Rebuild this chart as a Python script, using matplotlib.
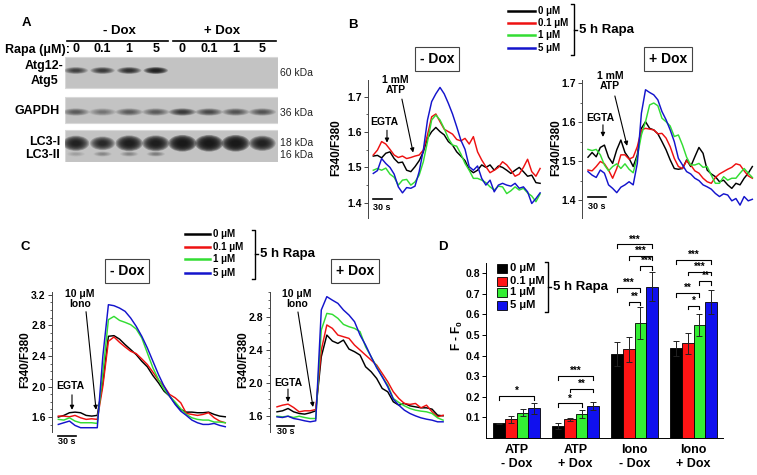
import numpy as np
import matplotlib
matplotlib.use('Agg')
from matplotlib import pyplot as plt
from matplotlib.lines import Line2D
from matplotlib.patches import Ellipse, Rectangle
from matplotlib.ticker import MultipleLocator, FormatStrFormatter

plt.rcParams['font.family'] = ['Liberation Sans', 'DejaVu Sans']
plt.rcParams['font.weight'] = 'bold'
plt.rcParams['mathtext.fontset'] = 'custom'
plt.rcParams['mathtext.rm'] = 'Liberation Sans:bold'
plt.rcParams['mathtext.bf'] = 'Liberation Sans:bold'
plt.rcParams['mathtext.default'] = 'bf'

# ---- data ----
conc_labels = ['0 μM', '0.1 μM', '1 μM', '5 μM']
rapa_lanes = ['0', '0.1', '1', '5', '0', '0.1', '1', '5']

# western blot band strength per lane (0 = none, 1 = saturated)
atg12_atg5 = [0.75, 0.8, 0.85, 0.95, 0, 0, 0, 0]
gapdh = [0.6, 0.45, 0.6, 0.6, 0.8, 0.7, 0.65, 0.65]
lc3_i = [0.95, 0.9, 0.97, 0.97, 1.0, 1.0, 1.0, 0.95]
lc3_ii = [0.2, 0.35, 0.35, 0.4, 0, 0, 0, 0]

# B: 1 mM ATP traces (F340/F380), 0 / 0.1 / 1 / 5 uM rapa
atp_time_minus = np.linspace(0, 268, 41)
atp_minus_dox = [
    [1.532, 1.534, 1.527, 1.540, 1.544, 1.525, 1.513, 1.515, 1.492, 1.488,
     1.502, 1.519, 1.544, 1.582, 1.601, 1.613, 1.601, 1.592, 1.573, 1.563,
     1.544, 1.532, 1.519, 1.494, 1.485, 1.492, 1.507, 1.500, 1.507, 1.492,
     1.504, 1.500, 1.492, 1.483, 1.492, 1.500, 1.488, 1.475, 1.478, 1.457, 1.455],
    [1.535, 1.549, 1.573, 1.566, 1.551, 1.535, 1.528, 1.532, 1.525, 1.528,
     1.532, 1.535, 1.549, 1.592, 1.643, 1.651, 1.629, 1.608, 1.601, 1.594,
     1.579, 1.575, 1.582, 1.566, 1.587, 1.544, 1.521, 1.502, 1.485, 1.492,
     1.500, 1.516, 1.507, 1.492, 1.475, 1.481, 1.500, 1.523, 1.488, 1.475, 1.497],
    [1.492, 1.497, 1.492, 1.498, 1.481, 1.472, 1.450, 1.464, 1.466, 1.450,
     1.459, 1.478, 1.516, 1.573, 1.634, 1.648, 1.634, 1.610, 1.582, 1.563,
     1.560, 1.538, 1.511, 1.492, 1.469, 1.469, 1.464, 1.457, 1.445, 1.436,
     1.447, 1.445, 1.426, 1.434, 1.445, 1.436, 1.441, 1.428, 1.419, 1.403, 1.425],
    [1.483, 1.491, 1.525, 1.511, 1.500, 1.481, 1.445, 1.428, 1.443, 1.441,
     1.447, 1.488, 1.549, 1.634, 1.686, 1.708, 1.726, 1.708, 1.681, 1.651,
     1.615, 1.577, 1.551, 1.502, 1.492, 1.504, 1.469, 1.450, 1.464, 1.431,
     1.450, 1.455, 1.450, 1.447, 1.455, 1.441, 1.445, 1.431, 1.398, 1.412, 1.428],
]
atp_time_plus = np.linspace(0, 269, 41)
atp_plus_dox = [
    [1.510, 1.522, 1.511, 1.535, 1.541, 1.510, 1.494, 1.529, 1.554, 1.522,
     1.507, 1.486, 1.516, 1.584, 1.601, 1.584, 1.580, 1.570, 1.550, 1.529,
     1.503, 1.481, 1.479, 1.481, 1.503, 1.486, 1.511, 1.535, 1.520, 1.477,
     1.467, 1.460, 1.447, 1.451, 1.439, 1.430, 1.443, 1.439, 1.456, 1.469, 1.486],
    [1.477, 1.475, 1.486, 1.499, 1.493, 1.477, 1.456, 1.481, 1.516, 1.516,
     1.505, 1.510, 1.537, 1.580, 1.584, 1.582, 1.580, 1.570, 1.571, 1.559,
     1.537, 1.507, 1.486, 1.481, 1.501, 1.490, 1.475, 1.469, 1.456, 1.447,
     1.443, 1.458, 1.467, 1.473, 1.479, 1.484, 1.493, 1.490, 1.475, 1.462, 1.456],
    [1.530, 1.527, 1.530, 1.516, 1.490, 1.475, 1.486, 1.493, 1.481, 1.493,
     1.479, 1.470, 1.511, 1.567, 1.601, 1.644, 1.649, 1.642, 1.610, 1.601,
     1.590, 1.563, 1.567, 1.541, 1.510, 1.490, 1.490, 1.494, 1.484, 1.486,
     1.464, 1.443, 1.443, 1.460, 1.451, 1.456, 1.456, 1.469, 1.481, 1.469, 1.458],
    [1.473, 1.464, 1.458, 1.477, 1.469, 1.439, 1.430, 1.419, 1.433, 1.439,
     1.447, 1.439, 1.494, 1.623, 1.683, 1.676, 1.670, 1.657, 1.627, 1.606,
     1.580, 1.550, 1.507, 1.490, 1.473, 1.467, 1.456, 1.450, 1.439, 1.434,
     1.428, 1.417, 1.409, 1.416, 1.413, 1.398, 1.404, 1.387, 1.409, 1.398, 1.402],
]

# C: 10 uM ionomycin traces
iono_time_minus = np.linspace(0, 283, 31)
iono_minus_dox = [
    [1.600, 1.622, 1.657, 1.665, 1.657, 1.622, 1.613, 1.622, 2.048, 2.657,
     2.665, 2.620, 2.548, 2.483, 2.417, 2.330, 2.257, 2.143, 2.048, 1.939,
     1.874, 1.778, 1.700, 1.665, 1.665, 1.657, 1.657, 1.665, 1.635, 1.613, 1.604],
    [1.613, 1.613, 1.604, 1.622, 1.591, 1.570, 1.578, 1.570, 2.004, 2.591,
     2.648, 2.578, 2.517, 2.461, 2.430, 2.361, 2.287, 2.187, 2.083, 2.004,
     1.896, 1.852, 1.787, 1.648, 1.635, 1.622, 1.635, 1.657, 1.591, 1.548, 1.526],
    [1.570, 1.561, 1.591, 1.548, 1.526, 1.526, 1.526, 1.517, 2.178, 2.874,
     2.917, 2.865, 2.839, 2.809, 2.752, 2.635, 2.439, 2.243, 2.091, 1.961,
     1.874, 1.796, 1.709, 1.635, 1.591, 1.570, 1.561, 1.561, 1.535, 1.535, 1.526],
    [1.504, 1.526, 1.548, 1.491, 1.461, 1.461, 1.461, 1.461, 2.396, 3.070,
     3.057, 3.026, 2.983, 2.896, 2.787, 2.657, 2.504, 2.330, 2.157, 2.004,
     1.874, 1.765, 1.678, 1.622, 1.561, 1.526, 1.504, 1.504, 1.517, 1.491, 1.474],
]
iono_time_plus = np.linspace(0, 293, 31)
iono_plus_dox = [
    [1.651, 1.663, 1.691, 1.651, 1.631, 1.623, 1.639, 1.663, 2.316, 2.578,
     2.506, 2.477, 2.518, 2.409, 2.377, 2.336, 2.195, 2.135, 2.054, 1.933,
     1.893, 1.772, 1.731, 1.752, 1.723, 1.711, 1.699, 1.699, 1.683, 1.610, 1.602],
    [1.711, 1.731, 1.744, 1.703, 1.651, 1.663, 1.663, 1.679, 2.397, 2.700,
     2.659, 2.578, 2.558, 2.538, 2.457, 2.397, 2.336, 2.276, 2.215, 2.115,
     2.014, 1.893, 1.812, 1.752, 1.740, 1.752, 1.699, 1.731, 1.651, 1.590, 1.610],
    [1.598, 1.590, 1.598, 1.582, 1.598, 1.582, 1.570, 1.570, 2.639, 2.840,
     2.828, 2.780, 2.707, 2.679, 2.659, 2.619, 2.437, 2.316, 2.195, 2.074,
     1.973, 1.812, 1.764, 1.723, 1.691, 1.671, 1.659, 1.651, 1.631, 1.578, 1.550],
    [1.590, 1.582, 1.598, 1.570, 1.558, 1.542, 1.530, 1.542, 2.881, 3.042,
     3.000, 2.961, 2.881, 2.820, 2.740, 2.578, 2.457, 2.316, 2.183, 2.074,
     1.953, 1.804, 1.731, 1.671, 1.631, 1.602, 1.578, 1.562, 1.550, 1.530, 1.530],
]

# D: peak F - F0, mean and error per rapa concentration
groups = ['ATP\n- Dox', 'ATP\n+ Dox', 'Iono\n- Dox', 'Iono\n+ Dox']
peak_0uM = [0.071, 0.059, 0.408, 0.436]
err_0uM = [0.003, 0.015, 0.060, 0.037]
peak_01uM = [0.091, 0.091, 0.431, 0.460]
err_01uM = [0.016, 0.006, 0.060, 0.052]
peak_1uM = [0.123, 0.117, 0.560, 0.549]
err_1uM = [0.017, 0.020, 0.077, 0.055]
peak_5uM = [0.145, 0.156, 0.735, 0.660]
err_5uM = [0.027, 0.019, 0.070, 0.057]
# (group, bar a, bar b, bracket height, label)
sig_brackets = [
    (0, 0, 3, 0.204, '*'),
    (1, 0, 2, 0.168, '*'), (1, 1, 3, 0.240, '**'), (1, 0, 3, 0.300, '***'),
    (2, 1, 2, 0.663, '**'), (2, 0, 2, 0.728, '***'), (2, 2, 3, 0.836, '***'),
    (2, 1, 3, 0.884, '***'), (2, 0, 3, 0.940, '***'),
    (3, 1, 2, 0.643, '*'), (3, 0, 2, 0.704, '**'), (3, 2, 3, 0.763, '**'),
    (3, 1, 3, 0.808, '***'), (3, 0, 3, 0.863, '***'),
]

line_colors = ['#000000', '#ee1111', '#33dd33', '#1414cc']
bar_colors = ['#000000', '#ff1414', '#33ee33', '#1010ee']

W, H = 757, 475
fig = plt.figure(figsize=(W / 100, H / 100), dpi=100)


def frac_rect(x0, y0, x1, y1):
    return [x0 / W, 1 - y1 / H, (x1 - x0) / W, (y1 - y0) / H]


def fig_text(x, y, s, **kw):
    kw.setdefault('ha', 'center')
    kw.setdefault('va', 'center')
    fig.text(x / W, 1 - y / H, s, **kw)


def fig_line(xs, ys, **kw):
    fig.add_artist(Line2D([x / W for x in xs], [1 - y / H for y in ys],
                          transform=fig.transFigure, **kw))


def rapa_bracket(x, y0, y1, x_text):
    fig_line([x - 3, x, x, x - 3], [y0, y0, y1, y1], color='k', lw=1.0)
    ym = (y0 + y1) / 2
    fig_line([x, x + 3], [ym, ym], color='k', lw=1.0)
    fig_text(x_text, ym, '5 h Rapa', ha='left', fontsize=9.5)


def line_key(x0, x1, x_lab, rows):
    for lab, col, y in zip(conc_labels, line_colors, rows):
        fig_line([x0, x1], [y, y], color=col, lw=1.8)
        fig_text(x_lab, y, lab, ha='left', fontsize=7)


def dox_box(x, y, s):
    fig_text(x, y, s, fontsize=10,
             bbox=dict(boxstyle='square,pad=0.35', fc='white', ec='#444444', lw=0.8))


def trace_panel(box, t, series, xlim, ylim, step):
    ax = fig.add_axes(frac_rect(*box))
    for vals, col in zip(series, line_colors):
        ax.plot(t, vals, color=col, lw=1.05)
    ax.set_xlim(xlim)
    ax.set_ylim(ylim)
    for s in ['top', 'right', 'bottom']:
        ax.spines[s].set_visible(False)
    ax.spines['left'].set_linewidth(0.7)
    ax.spines['left'].set_color('#444444')
    ax.set_xticks([])
    ax.yaxis.set_major_locator(MultipleLocator(step))
    ax.yaxis.set_minor_locator(MultipleLocator(step / 4 if step > 0.2 else step / 2))
    ax.yaxis.set_major_formatter(FormatStrFormatter('%.1f'))
    ax.tick_params(axis='y', which='major', labelsize=7.5, length=3, width=0.7,
                   pad=1.5, color='#444444')
    ax.tick_params(axis='y', which='minor', length=1.5, width=0.6, color='#444444')
    ax.patch.set_alpha(0)
    return ax


def arrow(ax, tail, head):
    ax.annotate('', xy=head, xytext=tail, annotation_clip=False,
                arrowprops=dict(arrowstyle='-|>', color='k', lw=0.8,
                                mutation_scale=6, shrinkA=0, shrinkB=0))


def scale_bar(ax, y_bar, y_txt):
    ax.plot([0, 30], [y_bar, y_bar], color='k', lw=1.2, clip_on=False)
    ax.text(0, y_txt, '30 s', fontsize=6.5, ha='left', va='center', clip_on=False)


# ---- A: western blot ----
fig_text(26, 23, 'A', fontsize=9.5)
fig_text(119, 31, '- Dox', fontsize=9.5)
fig_text(222, 31, '+ Dox', fontsize=9.5)
fig_line([67, 168], [40.5, 40.5], color='k', lw=1.2)
fig_line([173, 276], [40.5, 40.5], color='k', lw=1.2)
fig_text(5, 49.5, 'Rapa (μM):', ha='left', fontsize=9)
fig_text(44, 66.5, 'Atg12-', fontsize=9)
fig_text(45, 81, 'Atg5', fontsize=9)
fig_text(60, 111, 'GAPDH', ha='right', fontsize=9)
fig_text(60, 142, 'LC3-I', ha='right', fontsize=9)
fig_text(60, 155, 'LC3-II', ha='right', fontsize=9)
for y, s in [(72.5, '60 kDa'), (112.5, '36 kDa'), (142.5, '18 kDa'), (154.5, '16 kDa')]:
    fig_text(280, y, s, ha='left', fontsize=7.5, fontweight='normal', color='#222222')

ax_blot = fig.add_axes(frac_rect(65, 56, 278, 162))
ax_blot.set_xlim(-0.41, 7.59)
ax_blot.set_ylim(162, 56)
ax_blot.axis('off')
for y0, y1 in [(56.7, 88.3), (96.7, 123.3), (130, 161.7)]:
    ax_blot.add_patch(Rectangle((-0.41, y0), 8.0, y1 - y0, fc='#c3c3c3', ec='#d8d8d8', lw=0.8))


def band(lane, y, w, h, strength):
    # stacked faint ellipses give a soft, film-like edge
    if strength <= 0:
        return
    n = 10
    a = 1 - (1 - 0.97 * strength) ** (1.0 / n)
    for scale in np.linspace(1.15, 0.3, n):
        ax_blot.add_patch(Ellipse((lane, y), w * scale, h * scale, fc='#151515',
                                  alpha=a, lw=0))


for i, lab in enumerate(rapa_lanes):
    ax_blot.text(i, 49.5, lab, ha='center', va='center', fontsize=9, clip_on=False)
    band(i, 70.5, 0.8, 6, atg12_atg5[i])
    band(i, 112, 0.9, 6.5, gapdh[i])
    band(i, 143.3, 0.82 + 0.1 * (lc3_i[i] - 0.9) * 10, 12 + 2.5 * (lc3_i[i] - 0.9) * 10,
         lc3_i[i])
    band(i, 154, 0.6, 4.5, lc3_ii[i])

# ---- B: ATP traces ----
fig_text(353, 25, 'B', fontsize=9.5)
line_key(508, 535, 538, [11, 23, 35, 48])
rapa_bracket(574, 4, 55, 579)
dox_box(437, 59, '- Dox')
dox_box(668, 59, '+ Dox')

ax = trace_panel((368, 80, 548, 218), atp_time_minus, atp_minus_dox,
                 (-8.5, 280.7), (1.357, 1.747), 0.1)
ax.text(17, 1.627, 'EGTA', ha='center', va='center', fontsize=7.5)
arrow(ax, (22, 1.605), (22, 1.570))
ax.text(36, 1.733, '1 mM\nATP', ha='center', va='center', fontsize=7.5, linespacing=1.0)
arrow(ax, (46, 1.693), (64, 1.542))
scale_bar(ax, 1.41, 1.388)
fig_text(336, 148, 'F340/F380', rotation=90, fontsize=8.5)

ax = trace_panel((582, 80, 757, 218), atp_time_plus, atp_plus_dox,
                 (-9.8, 276.6), (1.354, 1.708), 0.1)
ax.text(19.6, 1.610, 'EGTA', ha='center', va='center', fontsize=7.5)
arrow(ax, (24.5, 1.593), (24.5, 1.562))
ax.text(36, 1.705, '1 mM\nATP', ha='center', va='center', fontsize=7.5, linespacing=1.0)
arrow(ax, (44, 1.667), (64, 1.539))
scale_bar(ax, 1.408, 1.383)
fig_text(556, 148, 'F340/F380', rotation=90, fontsize=8.5)

# ---- C: ionomycin traces ----
fig_text(25.5, 247, 'C', fontsize=9.5)
line_key(185, 210, 213, [234, 246.7, 259.3, 272.7])
rapa_bracket(255, 230, 279, 260)
dox_box(127, 271, '- Dox')
dox_box(355, 271, '+ Dox')

ax = trace_panel((52, 291.7, 232, 432), iono_time_minus, iono_minus_dox,
                 (-10.7, 294.4), (1.405, 3.24), 0.4)
ax.text(19.8, 2.01, 'EGTA', ha='center', va='center', fontsize=7.5)
arrow(ax, (23.2, 1.891), (23.2, 1.695))
ax.text(36.8, 3.15, '10 μM\nIono', ha='center', va='center', fontsize=7.5, linespacing=1.0)
arrow(ax, (47, 2.978), (64, 1.695))
scale_bar(ax, 1.354, 1.276)
fig_text(25, 360, 'F340/F380', rotation=90, fontsize=8.5)

ax = trace_panel((269.5, 291.7, 448, 432), iono_time_plus, iono_plus_dox,
                 (-13.2, 301.6), (1.407, 3.102), 0.4)
ax.text(19.4, 2.0, 'EGTA', ha='center', va='center', fontsize=7.5)
arrow(ax, (19.4, 1.926), (19.4, 1.769))
ax.text(35.3, 3.014, '10 μM\nIono', ha='center', va='center', fontsize=7.5, linespacing=1.0)
arrow(ax, (37, 2.857), (63.5, 1.709))
scale_bar(ax, 1.479, 1.407)
fig_text(243, 360, 'F340/F380', rotation=90, fontsize=8.5)

# ---- D: bar chart ----
fig_text(442.5, 247, 'D', fontsize=9.5)
ax_d = fig.add_axes(frac_rect(486, 263, 723, 438))
x = np.arange(len(groups))
width = 0.2
peaks = [peak_0uM, peak_01uM, peak_1uM, peak_5uM]
errs = [err_0uM, err_01uM, err_1uM, err_5uM]
for k, (m, e, col) in enumerate(zip(peaks, errs, bar_colors)):
    ax_d.bar(x + (k - 1.5) * width, m, width, yerr=e, color=col, edgecolor='k', lw=0.6,
             error_kw=dict(elinewidth=0.7, capsize=2, capthick=0.7, ecolor='#222222'))
ax_d.set_xlim(-0.52, 3.5)
ax_d.set_ylim(0, 0.85)
for s in ['top', 'right']:
    ax_d.spines[s].set_visible(False)
for s in ['left', 'bottom']:
    ax_d.spines[s].set_linewidth(0.7)
ax_d.set_yticks(np.arange(0.1, 0.81, 0.1))
ax_d.yaxis.set_major_formatter(FormatStrFormatter('%.1f'))
ax_d.tick_params(axis='y', labelsize=7.5, length=3, width=0.7, pad=1.5)
ax_d.set_xticks(x)
ax_d.set_xticklabels(groups, fontsize=9, linespacing=1.3)
ax_d.tick_params(axis='x', length=0, pad=4)
ax_d.patch.set_alpha(0)
for g, i, j, lev, stars in sig_brackets:
    x0 = g + (i - 1.5) * width
    x1 = g + (j - 1.5) * width
    ax_d.plot([x0, x0, x1, x1], [lev - 0.018, lev, lev, lev - 0.018], color='k', lw=0.8,
              clip_on=False)
    ax_d.text((x0 + x1) / 2, lev + 0.0, stars, ha='center', va='bottom', fontsize=7,
              clip_on=False)
fig_text(457, 335, 'F - F$_0$', rotation=90, fontsize=8.5)

for lab, col, y in zip(conc_labels, bar_colors, [268.3, 281, 292.3, 305]):
    fig.add_artist(Rectangle(((497) / W, 1 - (y + 4.5) / H), 10 / W, 9 / H, fc=col, ec='k',
                             lw=0.6, transform=fig.transFigure))
    fig_text(510, y, lab, ha='left', fontsize=8)
rapa_bracket(548, 262, 312, 553)

fig.savefig('out.png', dpi=100)
